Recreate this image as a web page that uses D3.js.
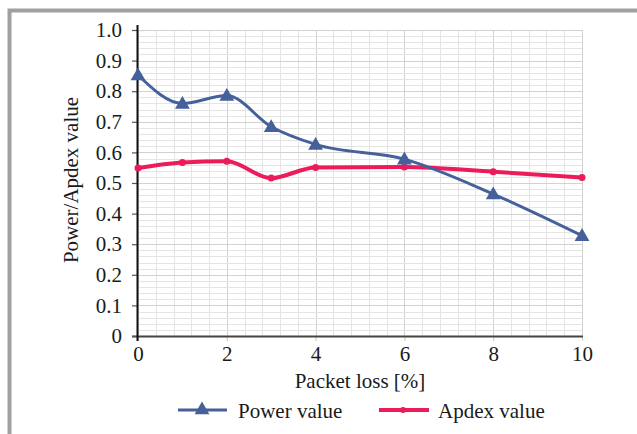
<!DOCTYPE html>
<html><head><meta charset="utf-8">
<script src="https://cdn.jsdelivr.net/npm/d3@7"></script>
<style>
html,body{margin:0;padding:0;background:#fff;}
svg{display:block;}
text{font-family:"Liberation Serif","Times New Roman",Times,serif;fill:#1a1a1a;}
</style></head>
<body>
<svg id="chart" width="637" height="434"></svg>
<script>
const packetLoss = [0, 1, 2, 3, 4, 6, 8, 10];
const powerValues = [0.853, 0.760, 0.786, 0.684, 0.626, 0.578, 0.464, 0.328];
const apdexValues = [0.549, 0.567, 0.571, 0.516, 0.551, 0.552, 0.537, 0.518];
const xTicks = [0, 2, 4, 6, 8, 10];
const yTicks = [0, 0.1, 0.2, 0.3, 0.4, 0.5, 0.6, 0.7, 0.8, 0.9, 1.0];
const yTickLabels = ["0", "0.1", "0.2", "0.3", "0.4", "0.5", "0.6", "0.7", "0.8", "0.9", "1.0"];
const seriesNames = ["Power value", "Apdex value"];
const xTitle = "Packet loss [%]";
const yTitle = "Power/Apdex value";

const powerColor = "#45609a";
const apdexColor = "#ec1b59";
const FS = 21;

const svg = d3.select("#chart");
const x = d3.scaleLinear().domain([0, 10]).range([138, 582]);
const y = d3.scaleLinear().domain([0, 1]).range([336, 30]);

// frame (partial border)
svg.append("rect").attr("x", 9.5).attr("y", 10.5).attr("width", 640).attr("height", 440)
  .attr("fill", "none").attr("stroke", "#a0a0a0").attr("stroke-width", 4);

// grid
const g = svg.append("g");
const minorX = d3.range(0, 10.001, 0.4);
const minorY = d3.range(0, 1.0001, 0.02);
g.selectAll(".vx").data(minorX).join("line")
  .attr("x1", d => Math.round(x(d)) + 0.5).attr("x2", d => Math.round(x(d)) + 0.5)
  .attr("y1", y(1)).attr("y2", y(0))
  .attr("stroke", d => Math.abs(d / 2 - Math.round(d / 2)) < 1e-6 ? "#d2d2d2" : "#e4e4e4")
  .attr("stroke-width", 1);
g.selectAll(".hy").data(minorY).join("line")
  .attr("x1", x(0)).attr("x2", x(10))
  .attr("y1", d => Math.round(y(d)) + 0.5).attr("y2", d => Math.round(y(d)) + 0.5)
  .attr("stroke", d => Math.abs(d * 10 - Math.round(d * 10)) < 1e-6 ? "#d2d2d2" : "#e4e4e4")
  .attr("stroke-width", 1);

// x-axis
const xAxis = d3.axisBottom(x).tickValues(xTicks).tickSize(5).tickPadding(5).tickFormat(d3.format("d"));
const xg = svg.append("g").attr("transform", "translate(0,336)").call(xAxis);
xg.select(".domain").remove();
xg.selectAll(".tick line").attr("stroke", "#cfcfcf").attr("stroke-width", 1.2);
xg.selectAll(".tick text").attr("font-size", FS).attr("font-family", null).attr("dy", "0.72em");
svg.append("line").attr("x1", 132).attr("x2", 583).attr("y1", 336.5).attr("y2", 336.5)
  .attr("stroke", "#444").attr("stroke-width", 2);

// y-axis
const yAxis = d3.axisLeft(y).tickValues(yTicks).tickSize(6).tickPadding(10)
  .tickFormat((d, i) => yTickLabels[i]);
const yg = svg.append("g").attr("transform", "translate(138,0)").call(yAxis);
yg.select(".domain").remove();
yg.attr("font-family", null);
xg.attr("font-family", null);
yg.selectAll(".tick line").attr("stroke", "#555").attr("stroke-width", 1.2);
yg.selectAll(".tick text").attr("font-size", FS);
svg.append("line").attr("x1", 137.5).attr("x2", 137.5).attr("y1", 25).attr("y2", 341)
  .attr("stroke", "#111").attr("stroke-width", 2);

// titles
svg.append("text").attr("x", x(5)).attr("y", 388).attr("text-anchor", "middle")
  .attr("font-size", FS).text(xTitle);
svg.append("text").attr("transform", "translate(78,180) rotate(-90)").attr("text-anchor", "middle")
  .attr("font-size", FS).text(yTitle);

// lines
const line = (vals) => d3.line().x((d, i) => x(packetLoss[i])).y(d => y(d)).curve(d3.curveMonotoneX)(vals);
svg.append("path").attr("d", line(apdexValues)).attr("fill", "none").attr("stroke", apdexColor).attr("stroke-width", 4);
svg.selectAll(".ad").data(apdexValues).join("circle")
  .attr("cx", (d, i) => x(packetLoss[i])).attr("cy", d => y(d)).attr("r", 3.5).attr("fill", apdexColor);

svg.append("path").attr("d", line(powerValues)).attr("fill", "none").attr("stroke", powerColor).attr("stroke-width", 3);
const tri = d3.symbol().type(d3.symbolTriangle).size(95);
svg.selectAll(".pt").data(powerValues).join("path")
  .attr("d", tri).attr("transform", (d, i) => `translate(${x(packetLoss[i])},${y(d) + 1})`)
  .attr("fill", powerColor);

// legend
const lg = svg.append("g");
lg.append("line").attr("x1", 178).attr("x2", 227).attr("y1", 410).attr("y2", 410).attr("stroke", powerColor).attr("stroke-width", 3);
lg.append("path").attr("d", tri).attr("transform", "translate(202,410)").attr("fill", powerColor);
lg.append("text").attr("x", 238).attr("y", 418).attr("font-size", FS).text(seriesNames[0]);
lg.append("line").attr("x1", 379).attr("x2", 429).attr("y1", 410).attr("y2", 410).attr("stroke", apdexColor).attr("stroke-width", 4);
lg.append("circle").attr("cx", 403).attr("cy", 410).attr("r", 3).attr("fill", apdexColor);
lg.append("text").attr("x", 438).attr("y", 418).attr("font-size", FS).text(seriesNames[1]);
</script>
</body></html>
